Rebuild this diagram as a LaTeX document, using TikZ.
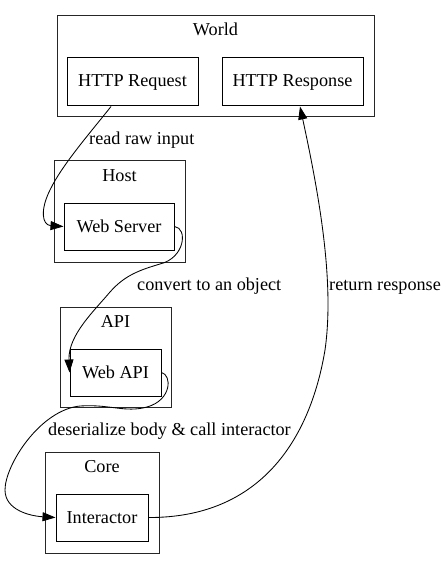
\documentclass[tikz,border=0pt]{standalone}
\usepackage{fontspec}
\setmainfont{Liberation Serif}
\usetikzlibrary{arrows.meta,positioning}
\begin{document}
\begin{tikzpicture}[x=1pt,y=-1pt,
  every node/.style={font=\fontsize{18.2}{22}\selectfont},
  cluster/.style={draw=black!85,line width=1pt,rectangle,inner sep=0pt},
  nbox/.style={draw,line width=1pt,rectangle,inner sep=0pt},
  lbl/.style={inner sep=0pt,anchor=base},
  elbl/.style={inner sep=0pt,anchor=base west},
  edge/.style={line width=0.85pt,-{Triangle[length=13pt,width=9pt]}}]
\useasboundingbox (0,0) rectangle (446,569);
% clusters
\node[cluster,minimum width=317pt,minimum height=101pt] (world) at (215.5,66.5) {};
\node[cluster,minimum width=131pt,minimum height=101pt] (host) at (119.5,211.5) {};
\node[cluster,minimum width=111pt,minimum height=100pt] (apic) at (115.5,357) {};
\node[cluster,minimum width=114pt,minimum height=101pt] (core) at (102,502.5) {};
\node[lbl] (worldl) at (215.5,36) {World};
\node[lbl] (hostl) at (119.5,182) {Host};
\node[lbl] (apil) at (115.5,327) {API};
\node[lbl] (corel) at (102,472) {Core};
% nodes
\node[nbox,minimum width=131pt,minimum height=48pt] (req) at (132.5,82) {};
\node[lbl] (reqt) at (132.5,87) {HTTP Request};
\node[nbox,minimum width=141pt,minimum height=48pt] (resp) at (292.5,82) {};
\node[lbl] (respt) at (292.5,87) {HTTP Response};
\node[nbox,minimum width=110pt,minimum height=47pt] (ws) at (119,226.5) {};
\node[lbl] (wst) at (119,232) {Web Server};
\node[nbox,minimum width=91pt,minimum height=47pt] (api) at (115.5,372.5) {};
\node[lbl] (apit) at (115.5,378) {Web API};
\node[nbox,minimum width=92pt,minimum height=47pt] (int) at (102,517.5) {};
\node[lbl] (intt) at (102,523) {Interactor};
% edges
\draw[edge] ([xshift=-21.5pt]req.south) .. controls (90,133) and (62,165) .. (50,190)
  .. controls (40,210) and (42,225) .. (ws.west);
\draw[edge] (ws.east) .. controls (188,228) and (185,258) .. (160,264)
  .. controls (140,270) and (125,275) .. (110,292)
  .. controls (95,310) and (68,335) .. (api.west);
\draw[edge] (api.east) .. controls (172,375) and (172,400) .. (147,407)
  .. controls (125,413) and (110,404) .. (80,406)
  .. controls (40,410) and (5,465) .. (5,490)
  .. controls (5,510) and (30,516) .. (int.west);
\draw[edge] (int.east) .. controls (260,518) and (310,440) .. (325,350)
  .. controls (335,280) and (318,190) .. ([xshift=7.5pt]resp.south);
% edge labels
\node[elbl] (l1) at (89,145) {read raw input};
\node[elbl] (l2) at (137,290) {convert to an object};
\node[elbl] (l3) at (329,290) {return response};
\node[elbl] (l4) at (48,435) {deserialize body \& call interactor};
\end{tikzpicture}
\end{document}
